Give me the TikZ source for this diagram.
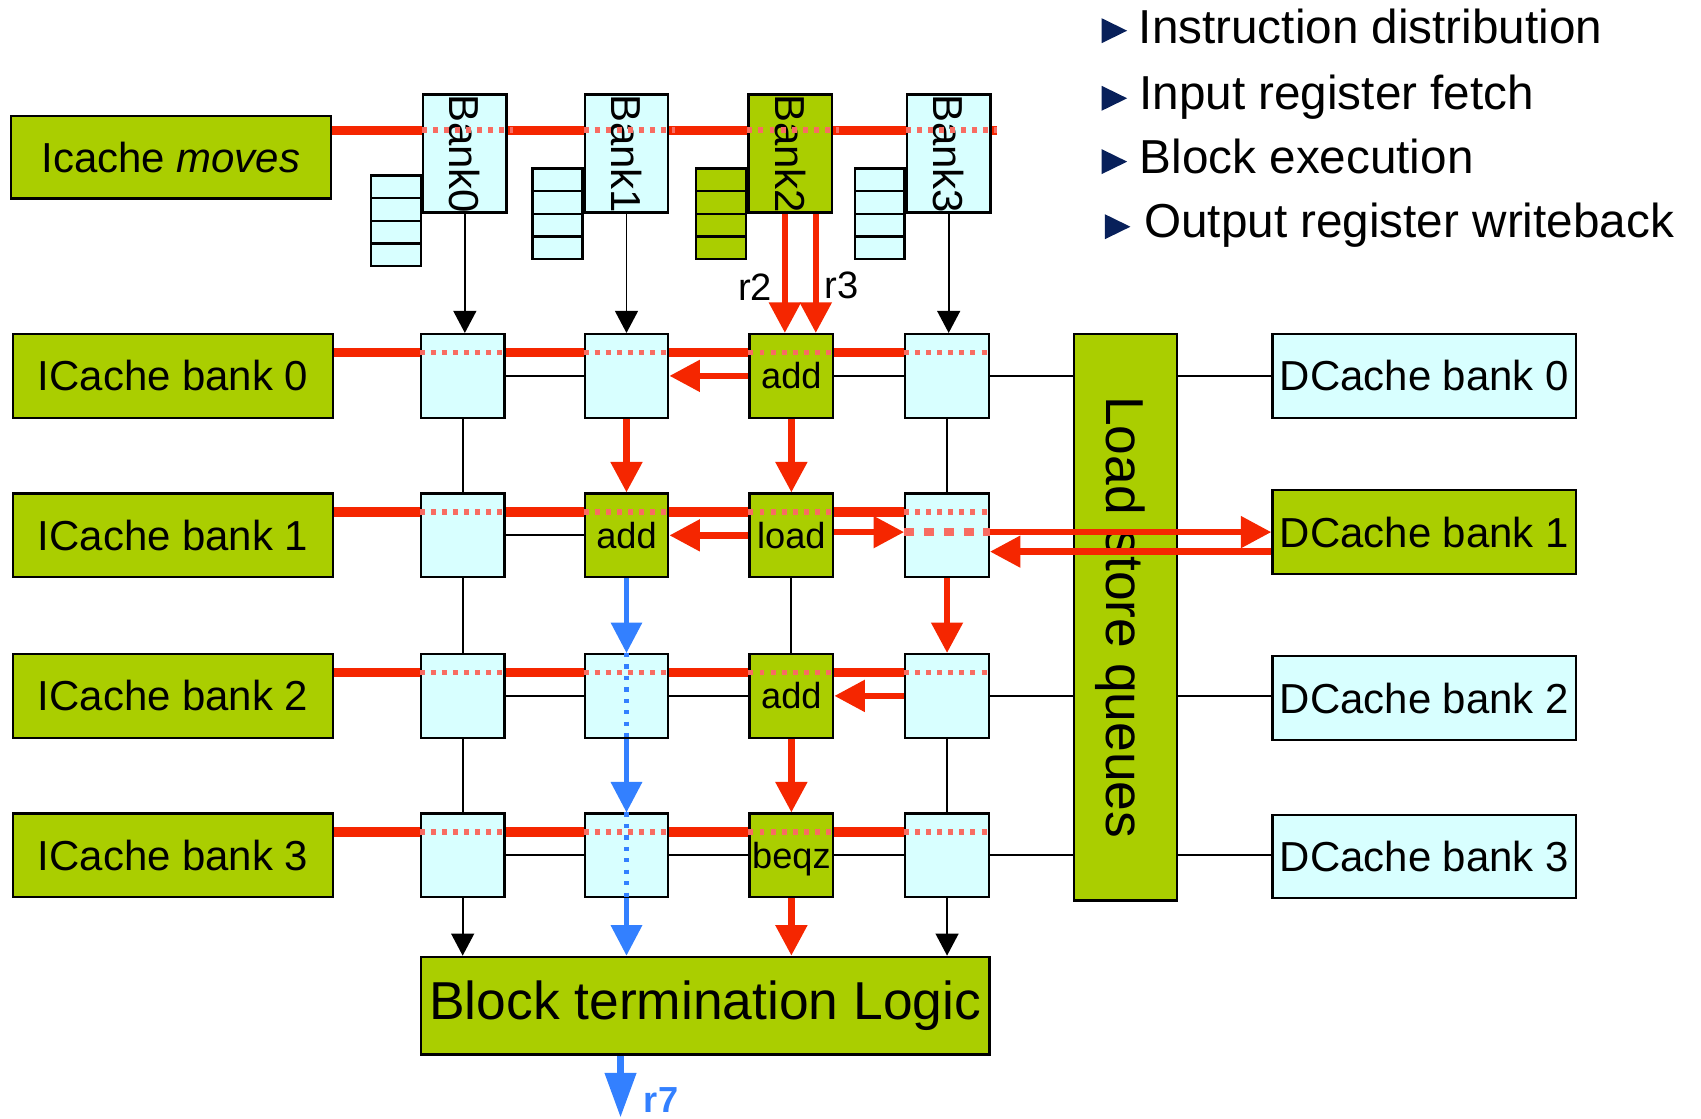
\documentclass[tikz,border=0pt]{standalone}
\usepackage{fontspec}
\setmainfont{Liberation Sans}
\usepackage{tikz}
\usetikzlibrary{arrows.meta,positioning,shapes,backgrounds}
\usepackage{xcolor}
\definecolor{tgreen}{RGB}{170,206,0}
\definecolor{tcyan}{RGB}{216,255,255}
\definecolor{tred}{RGB}{245,38,0}
\definecolor{tsalmon}{RGB}{248,108,98}
\definecolor{tblue}{RGB}{51,128,255}
\definecolor{tnavy}{RGB}{8,32,90}

\begin{document}
\begin{tikzpicture}[
  greenbox/.style={draw,line width=0.6pt,fill=tgreen,inner sep=0pt,font=\fontsize{11}{13}\selectfont},
  cyanbox/.style={draw,line width=0.6pt,fill=tcyan,inner sep=0pt,font=\fontsize{11}{13}\selectfont},
  tile/.style={cyanbox,minimum size=0.77cm},
  optile/.style={greenbox,minimum size=0.77cm,font=\fontsize{9.5}{11}\selectfont},
  cachebox/.style={minimum width=2.95cm,minimum height=0.77cm},
  dcachebox/.style={minimum width=2.80cm,minimum height=0.77cm},
  bankbox/.style={minimum width=0.77cm,minimum height=1.09cm},
  bankname/.style={rotate=-90,inner sep=0pt,font=\fontsize{11}{13}\selectfont},
  regfile/.style={draw,line width=0.6pt,rectangle split,rectangle split parts=4,inner sep=0pt,
    minimum width=0.46cm,rectangle split empty part height=0.1875cm,
    rectangle split empty part depth=0pt,anchor=east},
  wire/.style={line width=0.5pt},
  bus/.style={tred,line width=2.4pt},
  busdot/.style={tsalmon,line width=1.5pt,dash pattern=on 1.3pt off 1.6pt},
  busdash/.style={tsalmon,line width=2pt,dash pattern=on 2.6pt off 2.6pt},
  hot/.style={tred,line width=1.7pt,-{Triangle[length=8pt,width=8pt]}},
  cool/.style={tblue,line width=1.3pt,-{Triangle[length=8pt,width=8pt]}},
  cooldot/.style={tblue,line width=1.2pt,dash pattern=on 1.1pt off 1.9pt},
  regname/.style={text=black,font=\fontsize{10}{12}\selectfont},
  bullet/.pic={\fill[tnavy] (0.12,0) -- (-0.115,0.115) -- (-0.115,-0.115) -- cycle;},
  legend/.style={anchor=base west,inner sep=0pt,font=\fontsize{12.5}{15}\selectfont},
  >={Triangle[length=5.8pt,width=6pt]}
]
  \useasboundingbox (0,0) rectangle (15.68,-10.31);

  % Legend
  \pic at (10.27,-0.283) {bullet};
  \node[legend] (l1) at (10.49,-0.40) {Instruction distribution};
  \pic at (10.27,-0.906) {bullet};
  \node[legend] (l2) at (10.495,-1.014) {Input register fetch};
  \pic at (10.27,-1.49) {bullet};
  \node[legend] (l3) at (10.50,-1.598) {Block execution};
  \pic at (10.30,-2.09) {bullet};
  \node[legend] (l4) at (10.54,-2.19) {Output register writeback};

  % Instruction side
  \node[greenbox,cachebox,minimum height=0.76cm] (icm) at (1.575,-1.45) {Icache \textit{moves}};
  \node[cyanbox,bankbox] (bank0) at (4.285,-1.415) {};
  \node[cyanbox,bankbox] (bank1) at (5.775,-1.415) {};
  \node[greenbox,bankbox] (bank2) at (7.285,-1.415) {};
  \node[cyanbox,bankbox] (bank3) at (8.745,-1.415) {};
  \node[bankname] (bank0txt) at (bank0) {Bank0};
  \node[bankname] (bank1txt) at (bank1) {Bank1};
  \node[bankname] (bank2txt) at (bank2) {Bank2};
  \node[bankname] (bank3txt) at (bank3) {Bank3};
  \node[regfile,fill=tcyan] (reg0) at ([yshift=-0.065cm]bank0.south west) {};
  \node[regfile,fill=tcyan] (reg1) at (bank1.south west) {};
  \node[regfile,fill=tgreen] (reg2) at (bank2.south west) {};
  \node[regfile,fill=tcyan] (reg3) at (bank3.south west) {};

  \node[greenbox,cachebox] (ic0) at (1.595,-3.465) {ICache bank 0};
  \node[greenbox,cachebox] (ic1) at (1.595,-4.935) {ICache bank 1};
  \node[greenbox,cachebox] (ic2) at (1.595,-6.415) {ICache bank 2};
  \node[greenbox,cachebox] (ic3) at (1.595,-7.885) {ICache bank 3};

  % Execution tiles
  \node[tile] (t00) at (4.265,-3.465) {};
  \node[tile] (t01) at (5.775,-3.465) {};
  \node[optile] (t02) at (7.295,-3.465) {add};
  \node[tile] (t03) at (8.73,-3.465) {};
  \node[tile] (t10) at (4.265,-4.935) {};
  \node[optile] (t11) at (5.775,-4.935) {add};
  \node[optile] (t12) at (7.295,-4.935) {load};
  \node[tile] (t13) at (8.73,-4.935) {};
  \node[tile] (t20) at (4.265,-6.415) {};
  \node[tile] (t21) at (5.775,-6.415) {};
  \node[optile] (t22) at (7.295,-6.415) {add};
  \node[tile] (t23) at (8.73,-6.415) {};
  \node[tile] (t30) at (4.265,-7.885) {};
  \node[tile] (t31) at (5.775,-7.885) {};
  \node[optile,text depth=0pt] (t32) at (7.295,-7.885) {beqz};
  \node[tile] (t33) at (8.73,-7.885) {};

  % Data side
  \node[greenbox,minimum width=0.95cm,minimum height=5.22cm] (lsq) at (10.375,-5.69) {};
  \node[rotate=-90,text depth=0pt,font=\fontsize{14}{17}\selectfont] (lsqtxt) at (lsq) {Load store queues};
  \node[cyanbox,dcachebox] (dc0) at (13.13,-3.465) {DCache bank 0};
  \node[greenbox,dcachebox] (dc1) at (13.13,-4.905) {DCache bank 1};
  \node[cyanbox,dcachebox] (dc2) at (13.13,-6.435) {DCache bank 2};
  \node[cyanbox,dcachebox] (dc3) at (13.13,-7.895) {DCache bank 3};

  \node[greenbox,minimum width=5.24cm,minimum height=0.90cm,font=\fontsize{14}{17}\selectfont] (btl) at (6.50,-9.27) {Block termination Logic};

  % Instruction buses
  \coordinate (busT) at ([yshift=-0.14cm]icm.north east);
  \begin{scope}[on background layer]
    \draw[bus] (busT) -- ([xshift=0.05cm]busT -| bank3.east);
    \foreach \r in {0,...,3} {
      \coordinate (bus\r) at ([yshift=-0.18cm]t\r0.north);
      \draw[bus] (ic\r.east |- bus\r) -- (t\r3.east |- bus\r);
    }
  \end{scope}
  \foreach \b in {0,...,3}
    \draw[busdot] (busT -| bank\b.west) -- ([xshift=0.05cm]busT -| bank\b.east);
  \foreach \r in {0,...,3}
    \foreach \c in {0,...,3}
      \draw[busdot] (bus\r -| t\r\c.west) -- (bus\r -| t\r\c.east);

  % Thin wires
  \draw[wire,->] (bank0) -- (bank0 |- t00.north);
  \draw[wire,->] (bank1) -- (bank1 |- t01.north);
  \draw[wire,->] (bank3) -- (bank3 |- t03.north);
  \draw[wire] (t00) -- (t10);
  \draw[wire] (t10) -- (t20);
  \draw[wire] (t20) -- (t30);
  \draw[wire] (t12) -- (t22);
  \draw[wire] (t03) -- (t13);
  \draw[wire] (t23) -- (t33);
  \draw[wire,->] (t30) -- (t30 |- btl.north);
  \draw[wire,->] (t33) -- (t33 |- btl.north);
  \draw[wire] (t00) -- (t01);
  \draw[wire] (t02) -- (t03);
  \draw[wire] (t10) -- (t11);
  \draw[wire] (t20) -- (t21);
  \draw[wire] (t21) -- (t22);
  \draw[wire] (t30) -- (t31);
  \draw[wire] (t31) -- (t32);
  \draw[wire] (t32) -- (t33);
  \foreach \r in {0,2,3} {
    \draw[wire] (t\r3) -- (t\r3 -| lsq.west);
    \draw[wire] (lsq.east |- t\r3) -- (dc\r.west |- t\r3);
  }

  % Operand and result arrows
  \draw[hot] ([xshift=-0.05cm]bank2.south) -- ([xshift=-0.05cm]bank2.south |- t02.north)
    node[regname,pos=0.62,left,inner sep=2.5pt] (lr2) {r2};
  \draw[hot] ([xshift=0.235cm]bank2.south) -- ([xshift=0.235cm]bank2.south |- t02.north)
    node[regname,pos=0.6,right,inner sep=1.5pt] (lr3) {r3};
  \draw[hot] (t02) -- (t01);
  \draw[hot] (t01) -- (t11);
  \draw[hot] (t02) -- (t12);
  \draw[hot] (t12) -- (t11);
  \draw[hot] (t12.east |- dc1.west) -- (t13.west |- dc1.west);
  \draw[busdash] (t13.west |- dc1.west) -- (t13.east |- dc1.west);
  \draw[hot] (t13.east |- dc1.west) -- (dc1.west);
  \draw[hot] ([yshift=-0.18cm]dc1.west) -- ([yshift=-0.18cm]dc1.west -| t13.east);
  \draw[hot] (t13) -- (t23);
  \draw[hot] (t23) -- (t22);
  \draw[hot] (t22) -- (t32);
  \draw[hot] (t32) -- (t32 |- btl.north);

  \draw[cool] (t11) -- (t21);
  \draw[cool] (t21) -- (t31);
  \draw[cool] (t31) -- (t31 |- btl.north);
  \draw[cooldot] (t21.north) -- (t21.south);
  \draw[cooldot] (t31.north) -- (t31.south);

  % Block output
  \coordinate (out) at (5.72,-10.30);
  \draw[tblue,line width=1.6pt,-{Triangle[length=11.7pt,width=8pt]}] (btl.south -| out) -- (out)
    node[pos=0.72,right=2pt,font=\bfseries\fontsize{9.5}{11}\selectfont] (r7) {r7};
\end{tikzpicture}
\end{document}
